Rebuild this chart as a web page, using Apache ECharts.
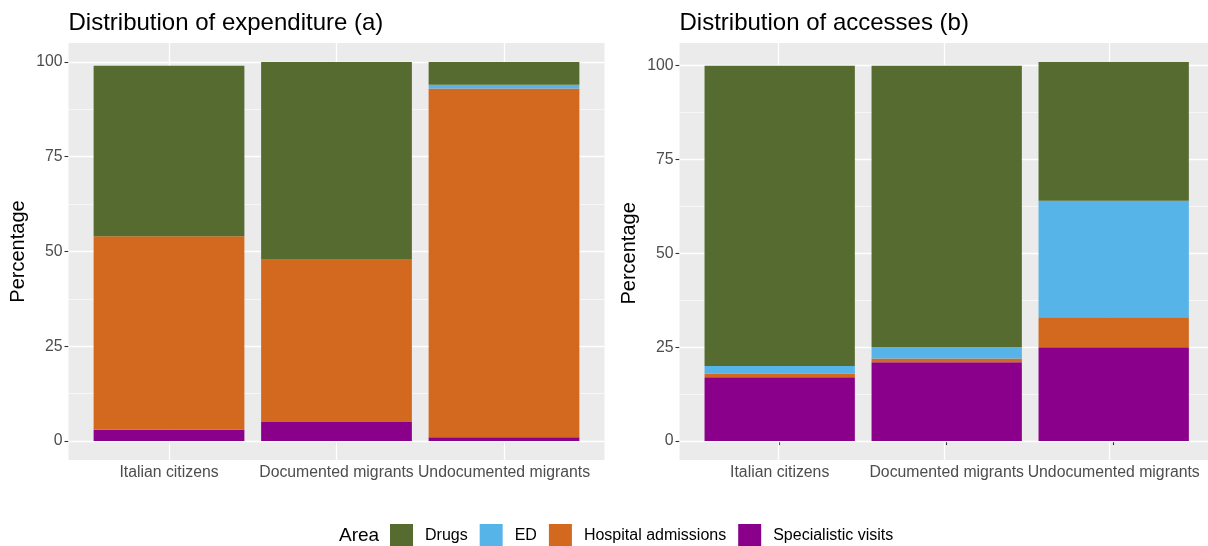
<!DOCTYPE html>
<html>
<head>
<meta charset="utf-8">
<script src="https://cdn.jsdelivr.net/npm/echarts@6/dist/echarts.min.js"></script>
<style>
  html, body { margin: 0; padding: 0; background: #ffffff; }
  #chart { width: 1208px; height: 546px; }
</style>
</head>
<body>
<div id="chart"></div>
<script>
// Categories and areas
const categories = ['Italian citizens', 'Documented migrants', 'Undocumented migrants'];
const areaNames = ['Drugs', 'ED', 'Hospital admissions', 'Specialistic visits'];
const areaColors = ['#556B2F', '#56B4E9', '#D2691E', '#8B008B'];

// Panel (a): distribution of expenditure, % per area
const expDrugs = [45, 52, 6];
const expED = [0, 0, 1];
const expHospital = [51, 43, 92];
const expSpecialist = [3, 5, 1];

// Panel (b): distribution of accesses, % per area
const accDrugs = [80, 75, 37];
const accED = [2, 3, 31];
const accHospital = [1, 1, 8];
const accSpecialist = [17, 21, 25];

// Axis breaks
const yTicks = [0, 25, 50, 75, 100];
const yMinorBreaks = [12.5, 37.5, 62.5, 87.5];

const panelTitles = ['Distribution of expenditure (a)', 'Distribution of accesses (b)'];
const yAxisTitle = 'Percentage';
const legendTitle = 'Area';

const FONT = 'Liberation Sans, Arial, Helvetica, sans-serif';
const PANEL_BG = '#EBEBEB';

// Panel frames (gray plotting area)
const panelTop = 43, panelHeight = 417;
const panelFrames = [
  { left: 68.5, width: 536 },
  { left: 679.5, width: 534.4 }
];

const panelData = [
  { drugs: expDrugs, ed: expED, hosp: expHospital, spec: expSpecialist },
  { drugs: accDrugs, ed: accED, hosp: accHospital, spec: accSpecialist }
];

const grid = [], xAxis = [], yAxis = [], series = [], title = [];

panelData.forEach((d, p) => {
  const frame = panelFrames[p];
  // data range of stacked totals, padded by 5% on each side
  const totals = categories.map((_, i) => d.drugs[i] + d.ed[i] + d.hosp[i] + d.spec[i]);
  const dataMax = Math.max.apply(null, totals);
  const pad = 0.05 * dataMax;
  const pxPerUnit = panelHeight / (dataMax + 2 * pad);
  const zeroY = panelTop + panelHeight - pad * pxPerUnit;
  const unit = frame.width / 3.2;
  const barLeft = frame.left + 0.6 * unit - 0.5 * unit;

  const bgIdx = grid.length;
  grid.push({
    left: frame.left, top: panelTop, width: frame.width, height: panelHeight,
    show: true, backgroundColor: PANEL_BG, borderWidth: 0
  });
  const barIdx = grid.length;
  grid.push({
    left: barLeft, top: zeroY - 100 * pxPerUnit, width: 3 * unit, height: 100 * pxPerUnit,
    show: false
  });

  // background panel scales, used for gridlines
  xAxis.push({ gridIndex: bgIdx, type: 'value', min: -0.6, max: 2.6, show: false });
  yAxis.push({ gridIndex: bgIdx, type: 'value', min: -pad, max: dataMax + pad, show: false });

  // bar scales, with visible ticks and labels
  xAxis.push({
    gridIndex: barIdx, type: 'category', data: categories,
    offset: panelTop + panelHeight - zeroY,
    axisLine: { show: false },
    axisTick: { show: true, alignWithLabel: true, length: 4, lineStyle: { color: '#333333', width: 1.1 } },
    axisLabel: { interval: 0, margin: 5, color: '#4D4D4D', fontSize: 15.8, fontFamily: FONT },
    splitLine: { show: false }
  });
  yAxis.push({
    gridIndex: barIdx, type: 'value', min: 0, max: 100, interval: 25,
    offset: barLeft - frame.left,
    name: yAxisTitle, nameLocation: 'middle', nameGap: 40,
    nameTextStyle: { color: '#000000', fontSize: 20, fontFamily: FONT },
    axisLine: { show: false },
    axisTick: { show: true, length: 4, lineStyle: { color: '#333333', width: 1.1 } },
    axisLabel: { margin: 6, color: '#4D4D4D', fontSize: 15.8, fontFamily: FONT },
    splitLine: { show: false }
  });

  // gridlines drawn on the background panel scales
  const lines = [];
  categories.forEach((_, i) => lines.push({ xAxis: i, lineStyle: { width: 1.3 } }));
  yTicks.forEach(v => lines.push({ yAxis: v, lineStyle: { width: 1.3 } }));
  yMinorBreaks.forEach(v => lines.push({ yAxis: v, lineStyle: { width: 0.6 } }));
  series.push({
    name: 'grid-' + p, type: 'line', data: [],
    xAxisIndex: bgIdx, yAxisIndex: bgIdx, z: 1,
    markLine: {
      silent: true, symbol: ['none', 'none'], label: { show: false },
      animation: false,
      lineStyle: { color: '#FFFFFF', type: 'solid', width: 1.3 },
      data: lines
    }
  });

  // stacked bars, bottom to top
  const stackOrder = [
    ['Specialistic visits', d.spec],
    ['Hospital admissions', d.hosp],
    ['ED', d.ed],
    ['Drugs', d.drugs]
  ];
  stackOrder.forEach(([name, values]) => {
    series.push({
      name: name, type: 'bar', stack: 'panel' + p,
      xAxisIndex: barIdx, yAxisIndex: barIdx,
      barWidth: '90%', clip: false, z: 10,
      itemStyle: { color: areaColors[areaNames.indexOf(name)] },
      data: values
    });
  });

  title.push({
    text: panelTitles[p], left: frame.left, top: 9, padding: 0,
    textStyle: { color: '#000000', fontSize: 24, fontWeight: 'normal', fontFamily: FONT, lineHeight: 28 }
  });
});

title.push({
  text: legendTitle, left: 339, top: 525, padding: 0,
  textStyle: { color: '#000000', fontSize: 19, fontWeight: 'normal', fontFamily: FONT, lineHeight: 22 }
});

const chart = echarts.init(document.getElementById('chart'), null, { renderer: 'canvas' });
chart.setOption({
  backgroundColor: '#FFFFFF',
  animation: false,
  title: title,
  legend: {
    data: areaNames,
    left: 390, top: 524, padding: 0,
    orient: 'horizontal',
    itemWidth: 23, itemHeight: 23, itemGap: 12,
    icon: 'rect',
    selectedMode: false,
    textStyle: { color: '#000000', fontSize: 16, fontFamily: FONT, padding: [0, 0, 0, 7] }
  },
  grid: grid,
  xAxis: xAxis,
  yAxis: yAxis,
  series: series
});
</script>
</body>
</html>
